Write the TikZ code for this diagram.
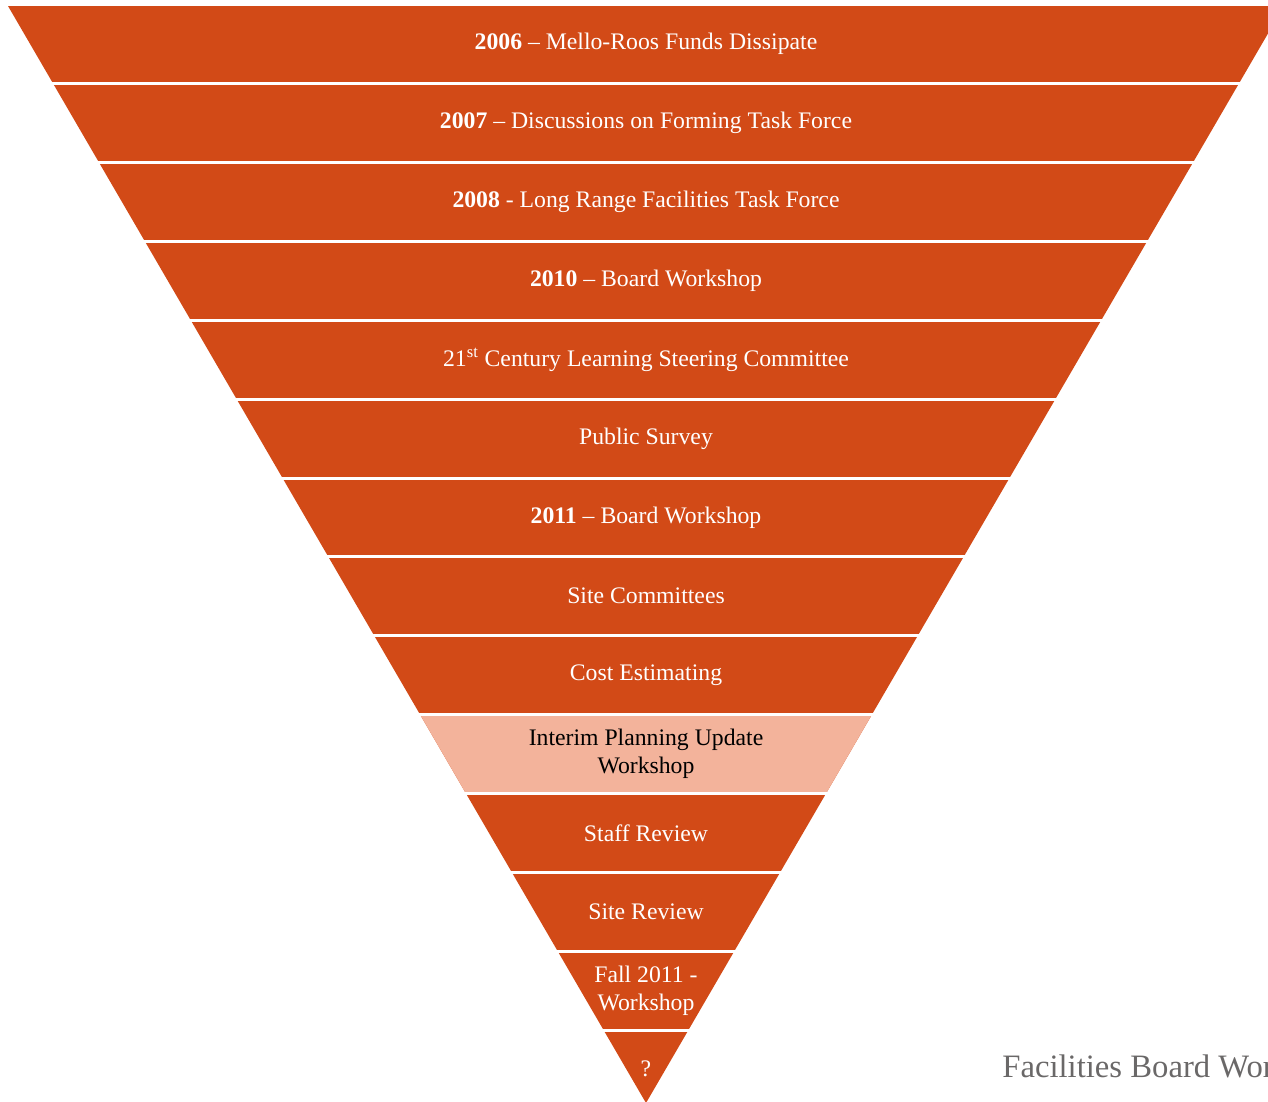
\documentclass[tikz,border=0pt]{standalone}
\usepackage{fontspec}
\setmainfont{Liberation Serif}
\usepackage{xcolor}
\usetikzlibrary{positioning}

\definecolor{rust}{HTML}{D24A17}
\definecolor{salmon}{HTML}{F3B39B}
\definecolor{footgray}{HTML}{6A6868}

\begin{document}
\begin{tikzpicture}[
  x=0.02cm, y=-0.02cm,
  band/.style={fill=rust},
  hiband/.style={fill=salmon},
  gap/.style={draw=white, line width=0.06cm},
  label/.style={text=white, align=center, font=\fontsize{13.5}{16}\selectfont},
  hilabel/.style={label, text=black},
  foot/.style={text=footgray, anchor=base west, inner sep=0pt, font=\fontsize{18.6}{22}\selectfont}
]
\useasboundingbox (0,0) rectangle (1268,1102);

\begin{scope}
% Funnel shape
\clip (0,0) rectangle (1268,1102);
\fill[band] (8,6) -- (1284,6) -- (646,1103) -- cycle;

% Highlighted stage
\begin{scope}
\clip (8,6) -- (1284,6) -- (646,1103) -- cycle;
\fill[hiband] (0,714.7) rectangle (1268,793.6);
\end{scope}

% Separators between stages
\foreach \yy in {83.5,162.4,241.3,320.2,399.1,478,556.9,635.8,714.7,793.6,872.5,951.4,1030.3}
  \draw[gap] (0,\yy) -- (1268,\yy);
\end{scope}

% Stage labels
\node[label] (s1) at (646,44) {\textbf{2006} -- Mello-Roos Funds Dissipate};
\node[label] (s2) at (646,123) {\textbf{2007} -- Discussions on Forming Task Force};
\node[label] (s3) at (646,202) {\textbf{2008} - Long Range Facilities Task Force};
\node[label] (s4) at (646,281) {\textbf{2010} -- Board Workshop};
\node[label] (s5) at (646,360) {21\textsuperscript{st} Century Learning Steering Committee};
\node[label] (s6) at (646,439) {Public Survey};
\node[label] (s7) at (646,518) {\textbf{2011} -- Board Workshop};
\node[label] (s8) at (646,596) {Site Committees};
\node[label] (s9) at (646,675) {Cost Estimating};
\node[hilabel] (s10) at (646,754) {Interim Planning Update\\Workshop};
\node[label] (s11) at (646,833) {Staff Review};
\node[label] (s12) at (646,912) {Site Review};
\node[label] (s13) at (646,991) {Fall 2011 -\\Workshop};
\node[label] (s14) at (646,1069) {?};

% Footer
\begin{scope}
\clip (0,0) rectangle (1268,1102);
\node[foot] (footer) at (1002,1077) {Facilities Board Workshop};
\end{scope}
\end{tikzpicture}
\end{document}
